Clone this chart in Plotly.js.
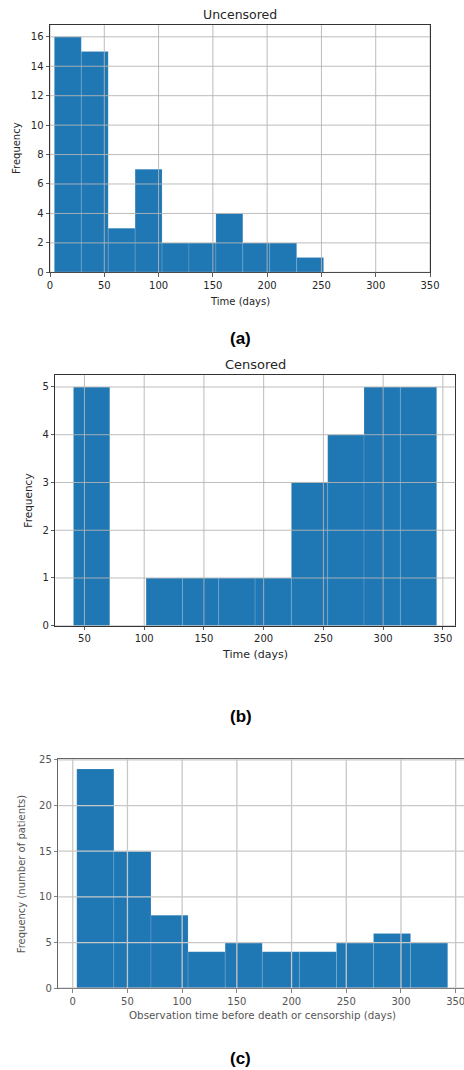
<!DOCTYPE html>
<html>
<head>
<meta charset="utf-8">
<script src="https://cdn.plot.ly/plotly-3.0.1.min.js"></script>
<style>
html,body{margin:0;padding:0;background:#fff;overflow:hidden;}
#chart{width:464px;height:1070px;}
</style>
</head>
<body>
<div id="chart"></div>
<script>
// ---- Data ----
var uncensoredEdges = [4, 28.8, 53.6, 78.4, 103.2, 128, 152.8, 177.6, 202.4, 227.2, 252];
var uncensoredCounts = [16, 15, 3, 7, 2, 2, 4, 2, 2, 1];

var censoredEdges = [40.8, 71.2, 101.6, 132, 162.4, 192.8, 223.2, 253.6, 284, 314.4, 344.8];
var censoredCounts = [5, 0, 1, 1, 1, 1, 3, 4, 5, 5];

var allEdges = [3.7, 37.6, 71.5, 105.4, 139.3, 173.2, 207.1, 241.0, 274.9, 308.8, 342.7];
var allCounts = [24, 15, 8, 4, 5, 4, 4, 5, 6, 5];

var xTicksA = [0, 50, 100, 150, 200, 250, 300, 350];
var yTicksA = [0, 2, 4, 6, 8, 10, 12, 14, 16];
var xTicksB = [50, 100, 150, 200, 250, 300, 350];
var yTicksB = [0, 1, 2, 3, 4, 5];
var xTicksC = [0, 50, 100, 150, 200, 250, 300, 350];
var yTicksC = [0, 5, 10, 15, 20, 25];

// ---- Helpers ----
function centers(e){var c=[];for(var i=0;i<e.length-1;i++)c.push((e[i]+e[i+1])/2);return c;}
function widths(e){var w=[];for(var i=0;i<e.length-1;i++)w.push(e[i+1]-e[i]);return w;}

var BLUE = '#1f77b4';
function barTrace(edges, counts, xa, ya){
  return {
    type:'bar', x:centers(edges), y:counts, width:widths(edges),
    xaxis:xa, yaxis:ya,
    marker:{color:BLUE, line:{color:'rgba(255,255,255,0.22)', width:0.6}},
    hoverinfo:'x+y', showlegend:false
  };
}

var data = [
  barTrace(uncensoredEdges, uncensoredCounts, 'x', 'y'),
  barTrace(censoredEdges, censoredCounts, 'x2', 'y2'),
  barTrace(allEdges, allCounts, 'x3', 'y3')
];

// gridlines drawn above bars (as in the matplotlib figure)
var shapes = [];
function grid(xt, yt, xr, yr, col, w){
  xt.forEach(function(v){shapes.push({type:'line',layer:'above',xref:xr,yref:yr+' domain',x0:v,x1:v,y0:0,y1:1,line:{color:col,width:w}});});
  yt.forEach(function(v){shapes.push({type:'line',layer:'above',xref:xr+' domain',yref:yr,x0:0,x1:1,y0:v,y1:v,line:{color:col,width:w}});});
}
grid(xTicksA, yTicksA, 'x', 'y', '#b4b4b4', 0.9);
grid(xTicksB, yTicksB, 'x2', 'y2', '#b4b4b4', 0.9);
grid(xTicksC, yTicksC, 'x3', 'y3', '#c8c8c8', 1.3);

var FONT = 'DejaVu Sans';
var TXT = '#262626';
var TXTC = '#555555';

function axis(anchor, dom, rng, ticks, col, mirror, tcol){
  return {anchor:anchor, domain:dom, range:rng, autorange:false, tickvals:ticks, ticktext:ticks.map(String),
    showgrid:false, zeroline:false, showline:true, linecolor:col, linewidth:1, mirror:mirror,
    ticks:'outside', ticklen:3.5, tickwidth:0.8, tickcolor:col, ticklabeloverflow:'allow',
    tickfont:{family:FONT, size:10, color:tcol}, fixedrange:true};
}

function ann(text, x, y, size, color, angle, family, bold){
  return {text: bold?('<b>'+text+'</b>'):text, x:x, y:y, xref:'paper', yref:'paper',
    xanchor:'center', yanchor:'middle', showarrow:false, textangle:angle||0,
    font:{family:family||FONT, size:size, color:color}};
}

var layout = {
  width:464, height:1070,
  margin:{l:0,r:0,t:0,b:0},
  paper_bgcolor:'#ffffff', plot_bgcolor:'#ffffff',
  showlegend:false, bargap:0,
  xaxis: axis('y', [50/464, 430/464], [0, 350], xTicksA, '#333333', true, TXT),
  yaxis: axis('x', [0.7455, 0.9766], [0, 16.8], yTicksA, '#333333', true, TXT),
  xaxis2: axis('y2', [55.3/464, 455.3/464], [25.6, 360.4], xTicksB, '#333333', true, TXT),
  yaxis2: axis('x2', [0.4152, 0.6495], [0, 5.25], yTicksB, '#333333', true, TXT),
  xaxis3: axis('y3', [58.3/464, 1], [-13.2, 357.6], xTicksC, '#666666', true, TXTC),
  yaxis3: axis('x3', [0.0764, 0.2907], [0, 25.1], yTicksC, '#666666', false, TXTC),
  shapes: shapes,
  annotations: [
    ann('Uncensored', 0.5172, 0.9869, 12.5, TXT),
    ann('Time (days)', 0.5172, 0.718, 10, TXT),
    ann('Frequency', 0.0356, 0.8612, 10, TXT, -90),
    ann('(a)', 0.5187, 0.6838, 17, '#000', 0, 'Liberation Sans, Arial', true),
    ann('Censored', 0.5502, 0.6589, 13, TXT),
    ann('Time (days)', 0.5489, 0.3879, 11, TXT),
    ann('Frequency', 0.061, 0.5324, 10.5, TXT, -90),
    ann('(b)', 0.5187, 0.3304, 17, '#000', 0, 'Liberation Sans, Arial', true),
    ann('Observation time before death or censorship (days)', 0.5647, 0.0514, 10.3, TXTC),
    ann('Frequency (number of patients)', 0.0468, 0.1835, 10, TXTC, -90),
    ann('(c)', 0.5187, 0.0103, 17, '#000', 0, 'Liberation Sans, Arial', true)
  ]
};

Plotly.newPlot('chart', data, layout, {displayModeBar:false, staticPlot:true});
</script>
</body>
</html>
